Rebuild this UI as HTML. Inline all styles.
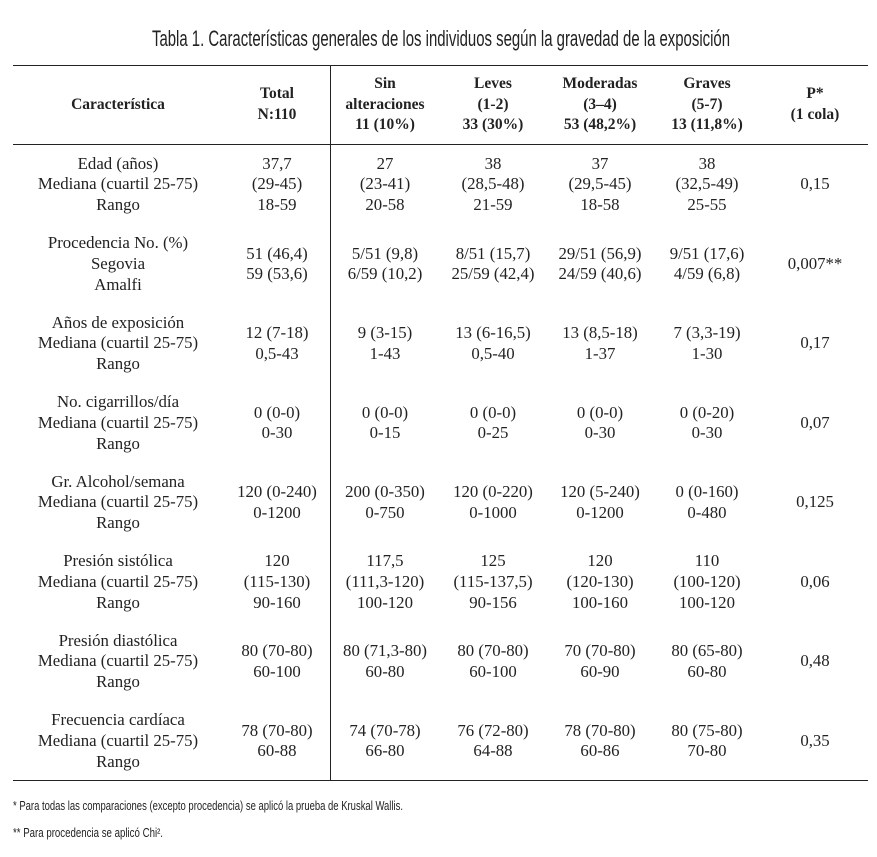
<!DOCTYPE html>
<html><head><meta charset="utf-8">
<style>
html,body{margin:0;padding:0;background:#fff;}
body{width:877px;height:857px;position:relative;overflow:hidden;color:#222;font-family:"Liberation Serif",serif;}
.hline{position:absolute;left:13px;width:855px;height:1px;background:#222;}
.vline{position:absolute;left:330px;top:65px;width:1px;height:715px;background:#222;}
.row{position:absolute;left:0;width:877px;height:79.5px;}
.cell{position:absolute;top:0;height:100%;display:flex;flex-direction:column;justify-content:center;align-items:center;text-align:center;font-size:16.8px;line-height:20.7px;white-space:nowrap;transform:translateX(-50%);}
.hdr .cell{font-weight:bold;font-size:15.5px;line-height:20.5px;}
svg{position:absolute;left:0;top:0;}
</style></head><body>
<svg width="877" height="857">
<text x="152" y="46" font-family="Liberation Sans, sans-serif" font-size="22" fill="#222" textLength="578" lengthAdjust="spacingAndGlyphs">Tabla 1. Características generales de los individuos según la gravedad de la exposición</text>
<text x="13" y="810" font-family="Liberation Sans, sans-serif" font-size="13" fill="#222" textLength="390" lengthAdjust="spacingAndGlyphs">* Para todas las comparaciones (excepto procedencia) se aplicó la prueba de Kruskal Wallis.</text>
<text x="13" y="837" font-family="Liberation Sans, sans-serif" font-size="13" fill="#222" textLength="150" lengthAdjust="spacingAndGlyphs">** Para procedencia se aplicó Chi².</text>
</svg>
<div class="hline" style="top:65px"></div>
<div class="hline" style="top:144px"></div>
<div class="hline" style="top:780px"></div>
<div class="vline"></div>

<div class="row hdr" style="top:65px">
<div class="cell" style="left:118px">Característica</div>
<div class="cell" style="left:277px"><div>Total</div><div>N:110</div></div>
<div class="cell" style="left:385px"><div>Sin</div><div>alteraciones</div><div>11 (10%)</div></div>
<div class="cell" style="left:493px"><div>Leves</div><div>(1-2)</div><div>33 (30%)</div></div>
<div class="cell" style="left:600px"><div>Moderadas</div><div>(3–4)</div><div>53 (48,2%)</div></div>
<div class="cell" style="left:707px"><div>Graves</div><div>(5-7)</div><div>13 (11,8%)</div></div>
<div class="cell" style="left:815px"><div>P*</div><div>(1 cola)</div></div>
</div>

<div id="body"></div>
<script>
const rows=[
 [["Edad (años)","Mediana (cuartil 25-75)","Rango"],["37,7","(29-45)","18-59"],["27","(23-41)","20-58"],["38","(28,5-48)","21-59"],["37","(29,5-45)","18-58"],["38","(32,5-49)","25-55"],["0,15"]],
 [["Procedencia No. (%)","Segovia","Amalfi"],["51 (46,4)","59 (53,6)"],["5/51 (9,8)","6/59 (10,2)"],["8/51 (15,7)","25/59 (42,4)"],["29/51 (56,9)","24/59 (40,6)"],["9/51 (17,6)","4/59 (6,8)"],["0,007**"]],
 [["Años de exposición","Mediana (cuartil 25-75)","Rango"],["12 (7-18)","0,5-43"],["9 (3-15)","1-43"],["13 (6-16,5)","0,5-40"],["13 (8,5-18)","1-37"],["7 (3,3-19)","1-30"],["0,17"]],
 [["No. cigarrillos/día","Mediana (cuartil 25-75)","Rango"],["0 (0-0)","0-30"],["0 (0-0)","0-15"],["0 (0-0)","0-25"],["0 (0-0)","0-30"],["0 (0-20)","0-30"],["0,07"]],
 [["Gr. Alcohol/semana","Mediana (cuartil 25-75)","Rango"],["120 (0-240)","0-1200"],["200 (0-350)","0-750"],["120 (0-220)","0-1000"],["120 (5-240)","0-1200"],["0 (0-160)","0-480"],["0,125"]],
 [["Presión sistólica","Mediana (cuartil 25-75)","Rango"],["120","(115-130)","90-160"],["117,5","(111,3-120)","100-120"],["125","(115-137,5)","90-156"],["120","(120-130)","100-160"],["110","(100-120)","100-120"],["0,06"]],
 [["Presión diastólica","Mediana (cuartil 25-75)","Rango"],["80 (70-80)","60-100"],["80 (71,3-80)","60-80"],["80 (70-80)","60-100"],["70 (70-80)","60-90"],["80 (65-80)","60-80"],["0,48"]],
 [["Frecuencia cardíaca","Mediana (cuartil 25-75)","Rango"],["78 (70-80)","60-88"],["74 (70-78)","66-80"],["76 (72-80)","64-88"],["78 (70-80)","60-86"],["80 (75-80)","70-80"],["0,35"]]
];
const colNames=["caracteristica","total","sin-alteraciones","leves","moderadas","graves","p-value"];
const colX=[118,277,385,493,600,707,815];
const body=document.getElementById('body');
rows.forEach((r,i)=>{
 const row=document.createElement('div');
 row.className='row';
 row.style.top=(145+i*79.5)+'px';
 
 
 r.forEach((lines,j)=>{
  const c=document.createElement('div');
  c.className='cell';
  c.style.left=colX[j]+'px';
  
  
  lines.forEach(t=>{const d=document.createElement('div');d.textContent=t;c.appendChild(d);});
  row.appendChild(c);
 });
 body.appendChild(row);
});
</script>
</body></html>
